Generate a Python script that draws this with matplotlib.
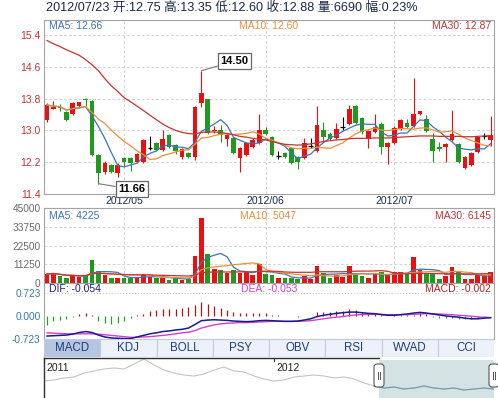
import numpy as np
import pandas as pd
import matplotlib
matplotlib.use("Agg")
import matplotlib.pyplot as plt
from matplotlib.patches import Rectangle, FancyBboxPatch

plt.rcParams['font.family'] = ['Liberation Sans', 'Noto Sans CJK SC']

# ------------------------------------------------------------------
# Données (séances du 2012/04/12 au 2012/07/23)
# ------------------------------------------------------------------
opens = [13.26, 13.55, 13.60, 13.46, 13.41, 13.62, 13.80, 13.74, 12.38, 11.96,
         12.13, 11.93, 12.31, 12.31, 12.20, 12.20, 12.56, 12.68, 12.51, 12.88,
         12.63, 12.33, 12.43, 12.33, 13.69, 13.79, 12.98, 13.01, 12.78, 12.81,
         12.31, 12.38, 12.58, 12.68, 13.01, 12.83, 12.36, 12.43, 12.56, 12.33,
         12.31, 12.61, 12.48, 13.01, 12.91, 12.81, 13.09, 13.16, 13.61, 13.31,
         12.78, 12.96, 13.16, 12.58, 12.68, 13.04, 13.19, 13.11, 13.41, 13.29,
         12.78, 12.58, 12.58, 12.76, 12.66, 12.06, 12.13, 12.46, 12.86, 12.75]
highs = [13.70, 13.74, 13.66, 13.50, 13.71, 13.72, 13.81, 13.76, 12.40, 12.22,
         12.16, 12.18, 12.33, 12.33, 12.43, 12.78, 12.86, 12.70, 13.01, 12.90,
         12.65, 12.56, 12.46, 13.62, 14.50, 13.80, 13.10, 13.14, 12.93, 12.84,
         12.58, 12.70, 12.80, 13.41, 13.09, 12.85, 12.48, 12.46, 12.58, 12.35,
         12.81, 12.81, 13.61, 13.21, 12.95, 13.19, 13.34, 13.64, 13.63, 13.33,
         13.01, 13.41, 13.21, 12.70, 13.11, 13.28, 13.29, 14.32, 13.50, 13.39,
         12.93, 12.71, 12.68, 13.51, 12.68, 12.35, 12.45, 12.86, 12.93, 13.35]
lows = [13.20, 13.53, 13.50, 13.24, 13.38, 13.58, 13.62, 12.36, 11.66, 11.90,
        11.93, 11.83, 12.10, 11.98, 12.18, 12.18, 12.51, 12.48, 12.48, 12.56,
        12.40, 12.28, 12.30, 12.26, 13.60, 12.90, 12.93, 12.71, 12.61, 12.40,
        11.95, 12.36, 12.55, 12.65, 12.88, 12.36, 12.28, 12.30, 12.16, 12.03,
        12.28, 12.56, 12.45, 12.71, 12.76, 12.78, 13.01, 13.14, 13.17, 12.91,
        12.56, 12.93, 12.41, 12.16, 12.66, 13.00, 13.06, 13.08, 13.38, 12.96,
        12.21, 12.48, 12.21, 12.73, 12.18, 12.03, 12.10, 12.43, 12.78, 12.60]
closes = [13.64, 13.58, 13.57, 13.26, 13.69, 13.71, 13.77, 12.38, 11.93, 12.18,
          11.96, 12.13, 12.20, 12.18, 12.41, 12.76, 12.56, 12.51, 12.78, 12.58,
          12.48, 12.53, 12.33, 13.59, 13.94, 12.93, 13.01, 12.88, 12.88, 12.43,
          12.56, 12.68, 12.76, 13.01, 12.91, 12.38, 12.36, 12.33, 12.18, 12.20,
          12.68, 12.61, 13.14, 12.83, 12.78, 13.04, 13.09, 13.54, 13.19, 12.96,
          12.98, 13.09, 12.58, 12.68, 13.06, 13.26, 13.09, 13.41, 13.49, 12.99,
          12.48, 12.53, 12.66, 12.91, 12.21, 12.33, 12.43, 12.83, 12.86, 12.88]
volumes = [5400, 6000, 4200, 3000, 4200, 3600, 4800, 13800, 7200, 4800,
           3000, 3000, 3000, 3000, 3600, 5400, 3600, 3000, 3000, 1800,
           3000, 1800, 2400, 16200, 39000, 17400, 8400, 7800, 6000, 7800,
           6000, 6600, 4800, 11400, 5200, 4800, 2800, 2800, 2800, 2400,
           4200, 2400, 10400, 6200, 3200, 4800, 3600, 10400, 5600, 4000,
           3200, 5400, 6600, 4800, 6400, 6400, 5200, 15800, 7800, 5600,
           5600, 2400, 4200, 9800, 6400, 2400, 2400, 4800, 4800, 6690]
# MA30 du prix (dépend d'un historique non visible)
ma30_prix = [15.26, 15.18, 15.11, 15.03, 14.96, 14.89, 14.78, 14.65, 14.50, 14.30,
             14.12, 13.98, 13.82, 13.72, 13.61, 13.50, 13.38, 13.27, 13.16, 13.07,
             13.00, 12.95, 12.92, 12.91, 12.95, 12.96, 12.96, 12.95, 12.92, 12.89,
             12.85, 12.83, 12.80, 12.78, 12.76, 12.72, 12.68, 12.65, 12.64, 12.63,
             12.64, 12.66, 12.69, 12.72, 12.74, 12.76, 12.77, 12.79, 12.80, 12.80,
             12.80, 12.81, 12.81, 12.81, 12.82, 12.83, 12.84, 12.85, 12.86, 12.86,
             12.86, 12.85, 12.85, 12.85, 12.85, 12.84, 12.84, 12.85, 12.86, 12.87]
dif = [-0.63, -0.62, -0.61, -0.60, -0.57, -0.52, -0.49, -0.52, -0.60, -0.66,
       -0.69, -0.70, -0.71, -0.71, -0.66, -0.61, -0.56, -0.53, -0.49, -0.47,
       -0.44, -0.42, -0.38, -0.27, -0.15, -0.13, -0.12, -0.13, -0.14, -0.16,
       -0.17, -0.18, -0.17, -0.15, -0.14, -0.15, -0.16, -0.17, -0.17, -0.16,
       -0.13, -0.09, -0.02, 0.02, 0.05, 0.08, 0.10, 0.12, 0.12, 0.10,
       0.08, 0.07, 0.04, 0.02, 0.02, 0.04, 0.06, 0.09, 0.11, 0.09,
       0.06, 0.03, 0.00, -0.02, -0.04, -0.07, -0.09, -0.09, -0.07, -0.054]
dea = [-0.53, -0.54, -0.55, -0.56, -0.56, -0.56, -0.56, -0.56, -0.57, -0.59,
       -0.61, -0.63, -0.65, -0.67, -0.67, -0.66, -0.65, -0.63, -0.61, -0.59,
       -0.56, -0.53, -0.51, -0.46, -0.38, -0.33, -0.28, -0.25, -0.23, -0.22,
       -0.21, -0.21, -0.20, -0.19, -0.18, -0.17, -0.17, -0.17, -0.17, -0.17,
       -0.16, -0.15, -0.12, -0.09, -0.06, -0.04, -0.02, 0.01, 0.03, 0.04,
       0.05, 0.05, 0.05, 0.04, 0.04, 0.04, 0.04, 0.05, 0.06, 0.07,
       0.07, 0.06, 0.05, 0.04, 0.02, 0.01, -0.01, -0.03, -0.04, -0.053]
macd = [-0.27, -0.16, -0.14, -0.11, -0.02, 0.05, 0.08, 0.02, -0.16, -0.21,
        -0.24, -0.21, -0.16, -0.05, 0.02, 0.07, 0.16, 0.18, 0.21, 0.21,
        0.21, 0.24, 0.27, 0.35, 0.43, 0.37, 0.32, 0.24, 0.18, 0.13,
        0.09, 0.08, 0.08, 0.09, 0.08, 0.03, 0.02, 0.01, -0.01, -0.02,
        0.00, 0.01, 0.11, 0.13, 0.13, 0.16, 0.16, 0.21, 0.18, 0.13,
        0.09, 0.09, 0.02, 0.01, 0.02, 0.03, 0.03, 0.04, 0.10, 0.05,
        -0.03, -0.06, -0.08, -0.08, -0.11, -0.11, -0.09, -0.05, -0.02, -0.002]

mois_pos = [12, 34, 54]
mois_labels = ['2012/05', '2012/06', '2012/07']
ticks_prix = [11.4, 12.2, 13.0, 13.8, 14.6, 15.4]
ticks_vol = [0, 11250, 22500, 33750, 45000]
ticks_macd = [-0.723, 0.0, 0.723]
onglets = ['MACD', 'KDJ', 'BOLL', 'PSY', 'OBV', 'RSI', 'WVAD', 'CCI']

# historique long terme affiché dans le navigateur (bas de la figure)
nav_historique = [11.9, 12.0, 12.2, 12.3, 12.7, 12.9, 13.1, 13.2, 13.1, 13.6,
                  14.1, 13.5, 13.0, 12.7, 12.5, 12.4, 12.6, 13.0, 13.3, 12.9,
                  12.8, 12.4, 12.1, 11.9, 12.0, 12.3, 12.4, 12.5, 12.4, 12.2,
                  12.3, 12.1, 11.7, 11.4, 11.2, 11.3, 11.1, 11.2, 11.4, 11.2,
                  11.1, 11.2, 11.0, 11.1, 11.2, 11.1]
nav_annees = ['2011', '2012']
nav_annees_pos = [0, 23]

ROUGE = '#e81010'
VERT = '#1f9a1f'
BLEU = '#3c74b4'
ORANGE = '#e8903a'
BORDEAUX = '#c43434'
GRILLE = '#d4d4d4'
CADRE = '#a4a4a4'
TEXTE = '#1c2a48'

FW, FH = 498.0, 398.0
fig = plt.figure(figsize=(FW / 100, FH / 100), dpi=100)


def panneau(x0, y0, x1, y1):
    # axes placés en pixels (origine en haut à gauche)
    return fig.add_axes([x0 / FW, 1 - y1 / FH, (x1 - x0) / FW, (y1 - y0) / FH])


def cadre(ax):
    for s in ax.spines.values():
        s.set_color(CADRE)
        s.set_linewidth(0.8)


def texte_px(x, y, s, **kw):
    fig.text(x / FW, 1 - y / FH, s, va='center', **kw)


x = np.arange(len(closes))
o = np.array(opens)
c = np.array(closes)
h = np.array(highs)
l = np.array(lows)
hausse = c > o
baisse = c < o
plat = c == o
couleurs = np.where(hausse, ROUGE, np.where(baisse, VERT, 'black'))
couleurs_vol = np.where(baisse, VERT, ROUGE)
xlim = (-0.47, 69.52)

# ---------------- titre ----------------
titre = '2012/07/23 开:%.2f 高:%.2f 低:%.2f 收:%.2f 量:%d 幅:0.23%%' % (
    opens[-1], highs[-1], lows[-1], closes[-1], volumes[-1])
texte_px(46, 8, titre, fontsize=9.1, color=TEXTE)

# ---------------- chandeliers ----------------
ax = panneau(44, 20, 494, 194)
cadre(ax)
ax.set_xlim(*xlim)
ax.set_ylim(11.4, 15.777)
for yv in ticks_prix[1:]:
    ax.axhline(yv, color=GRILLE, lw=0.7, ls=(0, (3, 2)), zorder=0)
for xv in mois_pos:
    ax.axvline(xv, color=GRILLE, lw=0.7, ls=(0, (3, 2)), zorder=0)

ax.vlines(x, l, h, colors=couleurs, lw=0.8, zorder=2)
ax.bar(x[~plat], np.abs(c - o)[~plat], bottom=np.minimum(o, c)[~plat], width=0.72,
       color=couleurs[~plat], lw=0, zorder=3)
ax.hlines(c[plat], x[plat] - 0.36, x[plat] + 0.36, colors='black', lw=0.9, zorder=3)

serie = pd.Series(closes)
ax.plot(x, serie.rolling(5, min_periods=1).mean(), color=BLEU, lw=0.9, zorder=4)
ax.plot(x, serie.rolling(10, min_periods=1).mean(), color=ORANGE, lw=0.9, zorder=4)
ax.plot(x, ma30_prix, color=BORDEAUX, lw=0.9, zorder=4)

ax.set_yticks(ticks_prix)
ax.set_yticklabels(['%.1f' % v for v in ticks_prix])
ax.tick_params(axis='y', length=0, pad=2.5, labelsize=7.5, labelcolor='#c83232')
ax.set_xticks(mois_pos)
ax.set_xticklabels(mois_labels)
ax.tick_params(axis='x', length=0, pad=1.8, labelsize=7.5, labelcolor=TEXTE)

i_max = int(np.argmax(h))
i_min = int(np.argmin(l))
boite = dict(boxstyle='square,pad=0.25', fc='white', ec='#666666', lw=0.9)
ax.annotate('%.2f' % h[i_max], xy=(i_max, h[i_max]), xytext=(24, 7),
            textcoords='offset points', fontsize=8, fontweight='bold', color='black',
            va='center', ha='center', bbox=boite, zorder=6, annotation_clip=False,
            arrowprops=dict(arrowstyle='-', color='#777777', lw=0.8, shrinkA=0, shrinkB=0))
ax.annotate('%.2f' % l[i_min], xy=(i_min, l[i_min]), xytext=(24, -4),
            textcoords='offset points', fontsize=8, fontweight='bold', color='black',
            va='center', ha='center', bbox=boite, zorder=6, annotation_clip=False,
            arrowprops=dict(arrowstyle='-', color='#777777', lw=0.8, shrinkA=0, shrinkB=0))

texte_px(49, 26, 'MA5: 12.66', fontsize=7.5, color=BLEU)
texte_px(239, 26, 'MA10: 12.60', fontsize=7.5, color=ORANGE)
texte_px(491, 26, 'MA30: 12.87', fontsize=7.5, color=BORDEAUX, ha='right')

# ---------------- volumes ----------------
av = panneau(44, 208, 494, 283)
cadre(av)
av.set_xlim(*xlim)
av.set_ylim(0, 45000)
for yv in ticks_vol[1:-1]:
    av.axhline(yv, color=GRILLE, lw=0.7, ls=(0, (3, 2)), zorder=0)
for xv in mois_pos:
    av.axvline(xv, color=GRILLE, lw=0.7, ls=(0, (3, 2)), zorder=0)
av.bar(x, volumes, width=0.72, color=couleurs_vol, lw=0, zorder=2)
vol = pd.Series(volumes)
av.plot(x, vol.rolling(5, min_periods=1).mean(), color=BLEU, lw=0.9, zorder=3)
av.plot(x, vol.rolling(10, min_periods=1).mean(), color=ORANGE, lw=0.9, zorder=3)
av.plot(x, vol.rolling(30, min_periods=1).mean(), color=BORDEAUX, lw=0.9, zorder=3)
av.set_yticks(ticks_vol)
av.set_yticklabels([str(v) for v in ticks_vol])
av.tick_params(axis='y', length=0, pad=2.5, labelsize=7.3, labelcolor='#6a6a6a')
av.set_xticks([])
texte_px(49, 216, 'MA5: 4225', fontsize=7.5, color=BLEU)
texte_px(240, 216, 'MA10: 5047', fontsize=7.5, color=ORANGE)
texte_px(491, 216, 'MA30: 6145', fontsize=7.5, color=BORDEAUX, ha='right')

# ---------------- MACD ----------------
am = panneau(44, 284, 494, 339)
cadre(am)
am.spines['top'].set_visible(False)
am.set_xlim(*xlim)
am.set_ylim(-0.723, 1.0)
am.axhline(0.723, color='#bbbbbb', lw=0.7, ls=(0, (1, 2)), zorder=0)
m = np.array(macd)
am.vlines(x, 0, m, colors=np.where(m >= 0, '#a81818', '#2aa02a'), lw=0.9, zorder=2)
am.plot(x, dea, color='#d040d0', lw=1.0, zorder=3)
am.plot(x, dif, color='#1a1a8c', lw=1.1, zorder=4)
am.set_yticks(ticks_macd)
am.set_yticklabels(['%.3f' % v for v in ticks_macd])
am.tick_params(axis='y', length=0, pad=2.5, labelsize=7.3, labelcolor='#3a78a8')
am.set_xticks([])
texte_px(49, 289, 'DIF: -0.054', fontsize=7.5, color='#1a1a8c')
texte_px(241, 289, 'DEA: -0.053', fontsize=7.5, color='#d040d0')
texte_px(491, 289, 'MACD: -0.002', fontsize=7.5, color='#b02020', ha='right')

# ---------------- onglets ----------------
at = panneau(44, 339, 494, 357)
at.set_xlim(0, len(onglets))
at.set_ylim(0, 1)
at.axis('off')
for k, nom in enumerate(onglets):
    fond = '#b6c6e2' if k == 0 else '#edf1f9'
    at.add_patch(Rectangle((k, 0), 1, 1, fc=fond, ec='#c2cbdd', lw=0.8))
    at.text(k + 0.5, 0.5, nom, ha='center', va='center', fontsize=8.3, color='#1d3c7a')

# ---------------- navigateur ----------------
an = panneau(44, 357, 494, 398)
an.set_xlim(0, len(nav_historique) - 1)
an.set_ylim(10.2, 14.3)
an.axis('off')
debut_sel = 33.5
an.add_patch(Rectangle((debut_sel, 10.2), len(nav_historique), 3.8, fc='#d3e3e3', ec='none', zorder=0))
xn = np.arange(len(nav_historique))
an.plot(xn, nav_historique, color='#c4c4c4', lw=0.8, zorder=1)
sel = xn >= 33
an.plot(xn[sel], np.array(nav_historique)[sel], color='#6c98b0', lw=0.8, zorder=2)
an.plot([0, debut_sel], [14.25, 14.25], color='#303030', lw=1.0, clip_on=False, zorder=3)
an.plot([0, 0], [10.2, 14.25], color='#303030', lw=1.0, clip_on=False, zorder=3)
for pos, annee in zip(nav_annees_pos, nav_annees):
    an.plot([pos, pos], [14.25, 13.9], color='#303030', lw=0.8, clip_on=False, zorder=3)
    an.text(pos + 0.2, 13.2, annee, fontsize=7.5, color='#222222', va='center', ha='left')
for xp in [debut_sel, len(nav_historique) - 1]:
    an.add_patch(FancyBboxPatch((xp - 0.45, 11.35), 0.9, 2.2, boxstyle='round,pad=0.05,rounding_size=0.3',
                                fc='white', ec='#555555', lw=0.8, zorder=5, clip_on=False))
    an.plot([xp - 0.12, xp - 0.12], [12.1, 12.8], color='#555555', lw=0.7, zorder=6, clip_on=False)
    an.plot([xp + 0.12, xp + 0.12], [12.1, 12.8], color='#555555', lw=0.7, zorder=6, clip_on=False)

fig.savefig('out.png', dpi=100)
